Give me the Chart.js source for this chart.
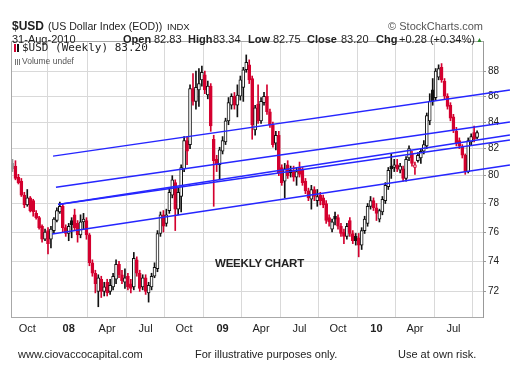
<!DOCTYPE html>
<html>
<head>
<meta charset="utf-8">
<title>$USD Weekly</title>
<script src="https://cdn.jsdelivr.net/npm/chart.js@4.4.0/dist/chart.umd.min.js"></script>
<style>
    body { margin: 0; background: #fff; }
    #wrap { position: relative; width: 510px; height: 376px; overflow: hidden; font-family: "Liberation Sans", Arial, sans-serif; color: #222; }
    #chart { position: absolute; left: 0; top: 0; }
    .t { position: absolute; white-space: nowrap; line-height: 1; }
    .b { font-weight: bold; }
    .mono { font-family: "DejaVu Sans Mono", monospace; }
    .icon { display: inline-block; width: 2px; margin-right: 1px; vertical-align: -1px; }
</style>
</head>
<body>
<div id="wrap">
    <canvas id="chart" width="510" height="376"></canvas>

    <!-- header -->
    <div class="t b" style="left:12px;top:20px;font-size:12px">$USD</div>
    <div class="t" style="left:48px;top:21px;font-size:10.6px">(US Dollar Index (EOD))</div>
    <div class="t" style="left:167px;top:22px;font-size:9.5px">INDX</div>
    <div class="t" style="right:27px;top:21px;font-size:11px;color:#555">© StockCharts.com</div>

    <div class="t" style="left:12px;top:34px;font-size:11px">31-Aug-2010</div>
    <div class="t b" style="left:123px;top:34px;font-size:11px">Open</div>
    <div class="t" style="left:154px;top:34px;font-size:11px">82.83</div>
    <div class="t b" style="left:188px;top:34px;font-size:11px">High</div>
    <div class="t" style="left:213px;top:34px;font-size:11px">83.34</div>
    <div class="t b" style="left:248px;top:34px;font-size:11px">Low</div>
    <div class="t" style="left:273px;top:34px;font-size:11px">82.75</div>
    <div class="t b" style="left:307px;top:34px;font-size:11px">Close</div>
    <div class="t" style="left:341px;top:34px;font-size:11px">83.20</div>
    <div class="t b" style="left:376px;top:34px;font-size:11px">Chg</div>
    <div class="t" style="left:399px;top:34px;font-size:11px">+0.28 (+0.34%)</div>
    <div class="t" style="left:476px;top:36px;font-size:7px;color:#2e8b2e">▲</div>

    <!-- legend inside plot -->
    <div class="t mono" style="left:14px;top:42px;font-size:11px">
        <span class="icon" style="height:8px;background:#d4002f"></span><span class="icon" style="height:8px;background:#111;margin-right:3px"></span>$USD (Weekly) 83.20
    </div>
    <div class="t" style="left:15px;top:57px;font-size:8.5px;color:#555">
        <span class="icon" style="width:1px;height:6px;background:#777"></span><span class="icon" style="width:1px;height:6px;background:#777"></span><span class="icon" style="width:1px;height:6px;background:#777;margin-right:2px"></span>Volume undef
    </div>

    <div class="t b" style="left:215px;top:258px;font-size:11.5px;letter-spacing:-0.2px">WEEKLY CHART</div>

    <!-- footer -->
    <div class="t" style="left:18px;top:349px;font-size:11px">www.ciovaccocapital.com</div>
    <div class="t" style="left:195px;top:349px;font-size:11px">For illustrative purposes only.</div>
    <div class="t" style="left:398px;top:349px;font-size:11px">Use at own risk.</div>
</div>

<script>
// Weekly bars, first bar = week of 27-Aug-2007, last bar = week of 30-Aug-2010
const opens = [
    80.9, 80.7, 79.9, 79.6, 78.6, 77.9, 78.4, 78.2, 77.3, 77.0,
    76.4, 75.5, 76.1, 75.5, 76.1, 76.8, 77.4, 77.8, 76.3, 75.9,
    76.8, 77.2, 76.6, 75.8, 76.7, 76.8, 75.8, 73.9, 73.2, 72.0,
    72.8, 72.0, 72.6, 72.0, 72.3, 72.8, 73.8, 73.1, 72.6, 73.0,
    72.5, 72.3, 74.1, 73.2, 72.3, 72.9, 71.9, 72.3, 73.0, 73.5,
    75.9, 77.2, 76.6, 77.5, 78.6, 79.5, 77.6, 78.5, 80.5, 82.6,
    82.3, 86.6, 85.6, 86.5, 87.3, 87.7, 86.1, 86.8, 82.7, 81.2,
    80.8, 81.8, 82.5, 84.1, 85.3, 86.0, 85.3, 86.0, 86.7, 88.1,
    88.5, 87.4, 83.4, 85.4, 84.1, 85.5, 86.0, 84.8, 83.8, 82.4,
    83.0, 80.6, 79.6, 80.8, 80.4, 80.4, 79.9, 80.6, 80.4, 79.6,
    78.9, 78.3, 79.0, 78.2, 78.6, 78.4, 78.0, 77.0, 76.2, 77.1,
    77.0, 76.4, 76.0, 75.7, 76.8, 75.9, 75.7, 75.6, 75.1, 76.1,
    76.6, 77.8, 78.2, 77.7, 76.9, 77.4, 78.2, 79.2, 80.7, 80.6,
    80.8, 80.4, 80.5, 79.8, 81.3, 81.6, 80.6, 81.1, 81.3, 81.8,
    82.2, 84.1, 86.5, 85.9, 87.5, 88.3, 87.2, 86.0, 85.3, 84.4,
    83.3, 82.6, 82.1, 81.5, 80.3, 82.5, 83.2, 82.83
];
const highs = [
    81.2, 81.1, 80.1, 79.8, 78.8, 79.0, 78.5, 78.3, 77.5, 77.1,
    76.5, 76.2, 76.3, 76.4, 77.0, 77.7, 78.1, 78.0, 76.5, 76.6,
    77.0, 77.6, 76.8, 77.2, 77.3, 77.0, 75.9, 74.1, 73.4, 73.1,
    73.0, 72.6, 72.8, 72.8, 73.2, 74.1, 74.0, 73.4, 73.5, 73.2,
    72.8, 74.6, 74.3, 73.4, 73.1, 73.1, 72.6, 73.2, 73.9, 76.1,
    77.4, 77.5, 77.6, 79.1, 80.0, 79.7, 79.1, 80.8, 82.9, 82.9,
    86.9, 87.8, 88.0, 88.2, 88.4, 88.0, 87.2, 87.0, 83.0, 81.5,
    82.1, 82.9, 84.3, 85.9, 86.2, 86.3, 86.9, 87.6, 88.3, 89.3,
    88.9, 87.6, 85.3, 86.9, 85.9, 86.3, 86.9, 85.0, 84.0, 83.3,
    83.3, 80.8, 80.9, 81.1, 80.7, 80.7, 80.6, 81.0, 80.6, 79.8,
    79.1, 79.3, 79.2, 79.0, 78.8, 78.6, 78.2, 77.2, 76.9, 77.4,
    77.2, 76.6, 76.2, 76.6, 77.0, 76.1, 75.9, 75.9, 76.3, 77.1,
    78.0, 78.5, 78.4, 78.0, 77.6, 78.5, 79.5, 80.6, 81.6, 81.2,
    81.2, 80.9, 80.7, 81.4, 82.2, 81.8, 81.0, 81.7, 82.0, 82.6,
    84.7, 86.2, 87.4, 88.2, 88.5, 88.6, 87.4, 86.2, 85.5, 84.6,
    83.6, 82.8, 82.3, 81.6, 82.8, 83.1, 83.7, 83.34
];
const lows = [
    80.3, 79.7, 79.4, 78.5, 77.7, 77.8, 77.4, 77.1, 76.9, 76.2,
    75.3, 75.4, 74.5, 74.9, 75.9, 76.7, 77.3, 76.0, 75.7, 75.4,
    75.6, 76.1, 75.3, 75.6, 76.2, 75.5, 73.7, 73.0, 71.9, 71.0,
    71.6, 71.7, 71.7, 71.8, 72.1, 72.5, 72.9, 72.5, 72.2, 72.1,
    71.9, 72.1, 73.0, 72.0, 72.1, 71.8, 71.3, 72.1, 72.9, 73.3,
    75.7, 76.0, 76.4, 77.3, 78.4, 76.1, 77.2, 77.4, 80.3, 80.8,
    82.0, 85.3, 85.0, 85.2, 86.8, 86.2, 85.8, 83.3, 77.8, 80.3,
    79.7, 81.6, 82.3, 83.8, 85.0, 85.0, 84.4, 85.7, 85.6, 87.9,
    87.0, 82.7, 83.0, 83.9, 83.9, 85.3, 84.6, 83.6, 82.1, 81.9,
    80.0, 79.3, 78.4, 79.8, 79.9, 79.6, 79.3, 79.9, 79.3, 78.7,
    78.2, 77.6, 78.2, 77.8, 77.9, 77.7, 76.6, 76.4, 76.0, 76.5,
    76.2, 75.7, 75.2, 75.5, 75.7, 75.2, 75.1, 74.3, 74.8, 75.9,
    76.4, 77.6, 77.5, 76.8, 76.7, 77.2, 78.0, 79.0, 79.8, 80.3,
    80.3, 80.2, 79.6, 79.6, 81.1, 80.7, 80.1, 81.0, 80.9, 81.6,
    82.0, 83.8, 85.3, 85.7, 87.3, 87.1, 85.8, 85.0, 84.1, 83.2,
    82.2, 82.0, 81.3, 80.1, 80.2, 82.3, 82.5, 82.75
];
const closes = [
    80.5, 79.8, 79.5, 78.6, 77.9, 78.4, 77.5, 77.4, 77.0, 76.3,
    75.5, 76.0, 75.2, 76.2, 76.9, 77.5, 77.8, 76.3, 75.9, 76.4,
    76.5, 76.3, 75.8, 76.7, 76.9, 75.8, 73.9, 73.2, 72.5, 72.9,
    72.0, 72.3, 71.9, 72.4, 73.0, 73.8, 73.1, 72.7, 72.9, 72.3,
    72.2, 74.2, 73.2, 72.2, 72.9, 72.0, 72.4, 73.0, 73.6, 75.9,
    77.2, 76.4, 77.2, 78.8, 79.7, 77.6, 78.8, 80.6, 82.6, 81.8,
    86.6, 85.6, 86.7, 87.0, 87.9, 86.5, 86.8, 83.7, 81.1, 80.8,
    81.9, 82.6, 84.1, 85.5, 86.0, 85.3, 86.1, 87.3, 88.1, 88.7,
    87.3, 83.8, 85.1, 84.1, 85.6, 86.0, 84.8, 83.8, 82.3, 83.0,
    80.2, 79.5, 80.5, 80.0, 80.2, 79.9, 80.3, 80.1, 79.5, 78.9,
    78.4, 79.0, 78.5, 78.5, 78.2, 77.9, 76.8, 76.7, 76.7, 76.9,
    76.4, 75.9, 75.7, 76.4, 75.9, 75.4, 75.4, 75.1, 76.1, 76.9,
    77.8, 78.2, 77.7, 77.3, 77.5, 78.3, 79.3, 80.4, 80.5, 80.8,
    80.5, 80.7, 79.8, 81.2, 82.0, 80.9, 80.8, 81.5, 81.8, 82.3,
    84.5, 85.6, 85.6, 88.0, 88.2, 87.3, 86.0, 85.2, 84.3, 83.4,
    82.4, 82.2, 81.5, 80.3, 82.6, 82.9, 82.7, 83.20
];

// Axis ticks (week index of first bar in the month) and labels
const xTickWeeks = [5, 19, 32, 45, 58, 71, 84, 97, 110, 123, 136, 149];
const xTickLabels = ['Oct', '08', 'Apr', 'Jul', 'Oct', '09', 'Apr', 'Jul', 'Oct', '10', 'Apr', 'Jul'];
const yTicks = [72, 74, 76, 78, 80, 82, 84, 86, 88];

// Trend lines: start week, start value, end week, end value
const trendLines = [
    [13.7, 81.44, 168.1, 86.49],
    [14.7, 79.16, 168.1, 84.01],
    [15.4, 77.93, 168.1, 83.02],
    [15.4, 77.93, 168.1, 82.64],
    [13.4, 75.86, 168.1, 80.78]
];

const RED = '#d4002f';
const BLACK = '#111111';

// candle colour: black if close above previous close, red otherwise
const candleColors = closes.map((c, i) => {
    if (i === 0) return '#9a9a9a';
    return c >= closes[i - 1] ? BLACK : RED;
});
const bodyFill = closes.map((c, i) => c >= opens[i] ? '#ffffff' : candleColors[i]);

// Plot frame (left and top edges)
const framePlugin = {
    id: 'frame',
    beforeDatasetsDraw(chart) {
        const { ctx, chartArea } = chart;
        ctx.save();
        ctx.strokeStyle = '#a8a8a8';
        ctx.lineWidth = 1;
        ctx.beginPath();
        ctx.moveTo(chartArea.left + 0.5, chartArea.bottom);
        ctx.lineTo(chartArea.left + 0.5, chartArea.top + 0.5);
        ctx.lineTo(chartArea.right, chartArea.top + 0.5);
        ctx.stroke();
        ctx.restore();
    }
};

const lineDatasets = trendLines.map(t => ({
    type: 'line',
    data: [{ x: t[0], y: t[1] }, { x: t[2], y: t[3] }],
    borderColor: '#2626ff',
    borderWidth: 1.4,
    pointRadius: 0,
    fill: false,
    clip: false,
    order: 0
}));

const ctx = document.getElementById('chart').getContext('2d');

new Chart(ctx, {
    type: 'bar',
    data: {
        datasets: [
            ...lineDatasets,
            {
                label: 'bodies',
                data: opens.map((o, i) => ({ x: i, y: [o, closes[i]] })),
                backgroundColor: bodyFill,
                borderColor: candleColors,
                borderWidth: 1,
                borderSkipped: false,
                barThickness: 3,
                minBarLength: 2,
                grouped: false,
                order: 1
            },
            {
                label: 'wicks',
                data: lows.map((l, i) => ({ x: i, y: [l, highs[i]] })),
                backgroundColor: candleColors,
                barThickness: 1,
                grouped: false,
                order: 2
            }
        ]
    },
    options: {
        responsive: false,
        animation: false,
        devicePixelRatio: 1,
        layout: { padding: { left: 11, top: 41, right: 0, bottom: 39 } },
        plugins: {
            legend: { display: false },
            tooltip: { enabled: false }
        },
        scales: {
            x: {
                type: 'linear',
                min: -0.5,
                max: 159,
                offset: false,
                afterBuildTicks: scale => {
                    scale.ticks = xTickWeeks.map(v => ({ value: v }));
                },
                afterFit: scale => { scale.height = 20; },
                grid: { color: '#d9d9d9', drawTicks: false },
                border: { color: '#aaaaaa' },
                ticks: {
                    padding: 5,
                    color: '#222',
                    autoSkip: false,
                    maxRotation: 0,
                    font: c => ({
                        family: 'Liberation Sans',
                        size: 11,
                        weight: c.tick && /^\d/.test(xTickLabels[xTickWeeks.indexOf(c.tick.value)]) ? 'bold' : 'normal'
                    }),
                    callback: v => xTickLabels[xTickWeeks.indexOf(v)]
                }
            },
            y: {
                type: 'logarithmic',
                position: 'right',
                min: 70.34,
                max: 90.44,
                afterBuildTicks: scale => {
                    scale.ticks = yTicks.map(v => ({ value: v }));
                },
                afterFit: scale => { scale.width = 27; },
                grid: { color: '#d9d9d9', tickLength: 3, tickColor: '#999' },
                border: { color: '#999999' },
                ticks: {
                    padding: 2,
                    color: '#222',
                    font: { family: 'Liberation Sans', size: 10 },
                    callback: v => String(v)
                }
            }
        }
    },
    plugins: [framePlugin]
});
</script>
</body>
</html>
